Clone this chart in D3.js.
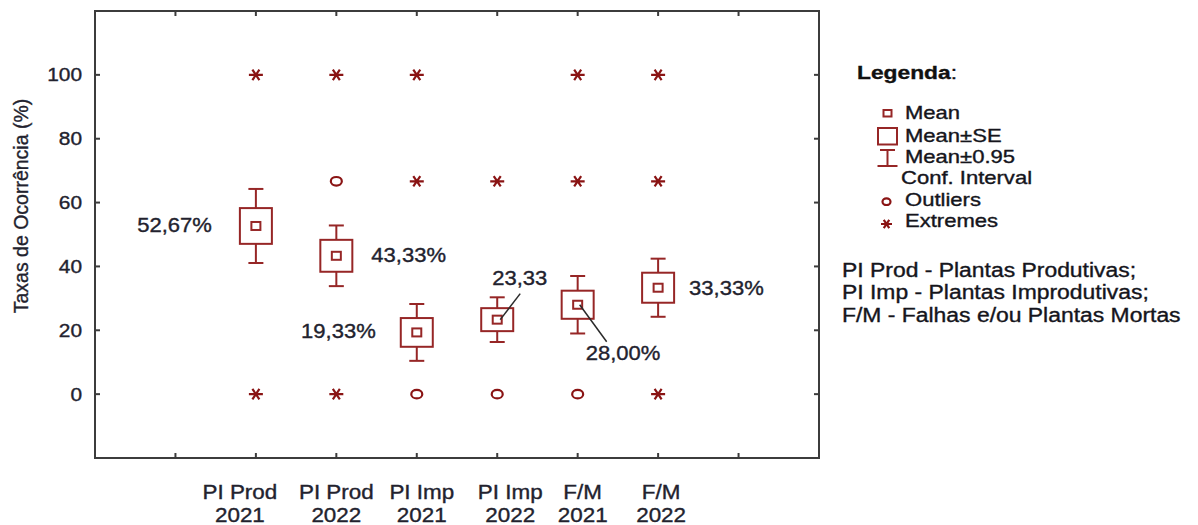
<!DOCTYPE html>
<html>
<head>
<meta charset="utf-8">
<script src="https://cdn.jsdelivr.net/npm/d3@7/dist/d3.min.js"></script>
<style>
  html, body { margin: 0; padding: 0; background: #fff; }
  svg { display: block; font-family: "Liberation Sans", Arial, sans-serif; }
  svg text { paint-order: stroke; stroke-width: 0.35px; }
</style>
</head>
<body>
<svg id="chart" width="1198" height="525"></svg>
<script>
// Occurrence rates (%) per plant group and year
const groupNames = ["PI Prod", "PI Prod", "PI Imp", "PI Imp", "F/M", "F/M"];
const groupYears = ["2021", "2022", "2021", "2022", "2021", "2022"];
const means      = [52.67, 43.33, 19.33, 23.33, 28.00, 33.33];
const stdErr     = [5.6, 5.0, 4.5, 3.6, 4.4, 4.7];
const ci95       = [11.6, 9.5, 8.9, 7.0, 9.0, 9.1];
const outliers   = [[], [66.67], [0], [0], [0], []];
const extremes   = [[100, 0], [100, 0], [100, 66.67], [66.67], [100, 66.67], [100, 66.67, 0]];
const meanLabels = ["52,67%", "43,33%", "19,33%", "23,33", "28,00%", "33,33%"];
const yTicks     = [0, 20, 40, 60, 80, 100];
const legendItems = ["Mean", "Mean\u00b1SE", "Mean\u00b10.95", "Outliers", "Extremes"];
const notes = ["PI Prod - Plantas Produtivas;", "PI Imp - Plantas Improdutivas;", "F/M - Falhas e/ou Plantas Mortas"];

// layout tweaks for the hand-placed category labels and value callouts
const xLabelNudge = [-16, 0, 5, 13, 5, 3];
const callouts = [
  { dx: -44, dy: 6,  anchor: "end" },
  { dx: 35,  dy: 6,  anchor: "start" },
  { dx: -41, dy: 6,  anchor: "end" },
  { dx: -5,  dy: -35, anchor: "start", leader: [[23, -26], [3, 0]] },
  { dx: 8,   dy: 55, anchor: "start", leader: [[2, 0], [29, 37]] },
  { dx: 31,  dy: 7,  anchor: "start" }
];

const MARK = "#962626";
const STAR = "#8a1414";
const INK  = "#22222e";
const FRAME = "#3c3c3c";

const svg = d3.select("#chart");
const plotL = 95, plotR = 819, plotT = 11, plotB = 458;

const x = d3.scaleLinear().domain([-2, 7]).range([plotL, plotR]);
const y = d3.scaleLinear().domain([-20, 120]).range([plotB, plotT]);

// stretched text helper (the figure's type is set wide)
function label(g, str, px, py, opts) {
  const fill = opts.fill || INK;
  const t = g.append("text")
    .attr("transform", `translate(${px},${py}) scale(${opts.sx || 1},1)`)
    .attr("text-anchor", opts.anchor || "start")
    .attr("font-size", opts.size)
    .attr("fill", fill)
    .attr("stroke", fill)
    .text(str);
  if (opts.weight) t.attr("font-weight", opts.weight);
  return t;
}

// frame
svg.append("rect")
  .attr("x", plotL).attr("y", plotT)
  .attr("width", plotR - plotL).attr("height", plotB - plotT)
  .attr("fill", "none").attr("stroke", FRAME).attr("stroke-width", 2);

// inward ticks on all four sides
const xTickVals = d3.range(-1, 7);
const axes = svg.append("g").attr("stroke", FRAME).attr("stroke-width", 2);
xTickVals.forEach(v => {
  axes.append("line").attr("x1", x(v)).attr("x2", x(v)).attr("y1", plotB).attr("y2", plotB - 5);
  axes.append("line").attr("x1", x(v)).attr("x2", x(v)).attr("y1", plotT).attr("y2", plotT + 5);
});
yTicks.forEach(v => {
  axes.append("line").attr("x1", plotL).attr("x2", plotL + 5).attr("y1", y(v)).attr("y2", y(v));
  axes.append("line").attr("x1", plotR).attr("x2", plotR - 5).attr("y1", y(v)).attr("y2", y(v));
});

// y tick labels
const yLab = svg.append("g");
yTicks.forEach(v => label(yLab, String(v), 82, y(v) + 6.6, { size: 18.5, sx: 1.13, anchor: "end" }));

// y axis title
svg.append("text")
  .attr("transform", "translate(27.5,206) rotate(-90)")
  .attr("text-anchor", "middle")
  .attr("font-size", 19.5)
  .attr("fill", INK)
  .attr("stroke", INK)
  .text("Taxas de Ocorr\u00eancia (%)");

// category labels
const xLab = svg.append("g");
groupNames.forEach((n, i) => {
  const cx = x(i) + xLabelNudge[i];
  label(xLab, n, cx, 499, { size: 19.5, sx: 1.15, anchor: "middle" });
  label(xLab, groupYears[i], cx, 521.7, { size: 19.5, sx: 1.15, anchor: "middle" });
});

// star glyph for extremes
function star(g, cx, cy, r) {
  const p = d3.path();
  [0, 60, 120].forEach(a => {
    const rad = a * Math.PI / 180;
    const dx = r * Math.cos(rad), dy = r * Math.sin(rad) * 0.85;
    p.moveTo(cx - dx, cy - dy); p.lineTo(cx + dx, cy + dy);
  });
  g.append("path").attr("d", p.toString())
    .attr("stroke", STAR).attr("stroke-width", 2.2).attr("fill", "none");
}
function ring(g, cx, cy, rx, ry) {
  g.append("ellipse").attr("cx", cx).attr("cy", cy).attr("rx", rx).attr("ry", ry)
    .attr("fill", "none").attr("stroke", STAR).attr("stroke-width", 2.2);
}

// box-whisker marks: mean, mean±SE, mean±0.95 CI
const marks = svg.append("g").attr("stroke", MARK).attr("stroke-width", 2).attr("fill", "none");
means.forEach((m, i) => {
  const cx = x(i);
  const boxW = 32, capW = 15;
  const yTop = y(m + ci95[i]), yBot = y(m - ci95[i]);
  const seTop = y(m + stdErr[i]), seBot = y(m - stdErr[i]);
  marks.append("line").attr("x1", cx).attr("x2", cx).attr("y1", yTop).attr("y2", seTop);
  marks.append("line").attr("x1", cx).attr("x2", cx).attr("y1", seBot).attr("y2", yBot);
  marks.append("line").attr("x1", cx - capW / 2).attr("x2", cx + capW / 2).attr("y1", yTop).attr("y2", yTop);
  marks.append("line").attr("x1", cx - capW / 2).attr("x2", cx + capW / 2).attr("y1", yBot).attr("y2", yBot);
  marks.append("rect").attr("x", cx - boxW / 2).attr("y", seTop)
    .attr("width", boxW).attr("height", seBot - seTop);
  marks.append("rect").attr("x", cx - 4.5).attr("y", y(m) - 4)
    .attr("width", 9).attr("height", 8);
});

// outliers and extremes
const pts = svg.append("g");
outliers.forEach((list, i) => list.forEach(v => ring(pts, x(i), y(v), 5.5, 4.3)));
extremes.forEach((list, i) => list.forEach(v => star(pts, x(i), y(v), 7)));

// mean value callouts
const notesG = svg.append("g");
meanLabels.forEach((t, i) => {
  const c = callouts[i];
  const mx = x(i), my = y(means[i]);
  label(notesG, t, mx + c.dx, my + c.dy, { size: 19.5, sx: 1.13, anchor: c.anchor });
  if (c.leader) {
    notesG.append("line")
      .attr("x1", mx + c.leader[0][0]).attr("y1", my + c.leader[0][1])
      .attr("x2", mx + c.leader[1][0]).attr("y2", my + c.leader[1][1])
      .attr("stroke", "#2a2a2a").attr("stroke-width", 1.5);
  }
});

// legend
const lg = svg.append("g");
const title = lg.append("text")
  .attr("transform", "translate(857,79.3) scale(1.2,1)")
  .attr("font-size", 19).attr("fill", "#111").attr("stroke", "#111");
title.append("tspan").attr("font-weight", "bold").text("Legenda");
title.append("tspan").text(":");

const itemBase = [119.3, 141.7, 163.3, 206, 227.3];
legendItems.forEach((t, i) => label(lg, t, 905, itemBase[i], { size: 17.5, sx: 1.26, fill: "#15151c" }));
label(lg, "Conf. Interval", 901, 184.3, { size: 17.5, sx: 1.26, fill: "#15151c" });

const icons = lg.append("g").attr("stroke", MARK).attr("stroke-width", 2).attr("fill", "none");
icons.append("rect").attr("x", 883.5).attr("y", 110).attr("width", 8).attr("height", 6.5);
icons.append("rect").attr("x", 878).attr("y", 128).attr("width", 19).attr("height", 16.5);
icons.append("line").attr("x1", 880).attr("x2", 895).attr("y1", 150).attr("y2", 150);
icons.append("line").attr("x1", 887.5).attr("x2", 887.5).attr("y1", 150).attr("y2", 166);
icons.append("line").attr("x1", 877.5).attr("x2", 897.5).attr("y1", 166).attr("y2", 166);
ring(lg, 886.5, 201.7, 4, 3.3);
star(lg, 886.5, 224, 5.5);

notes.forEach((t, i) => label(lg, t, 842, 276.7 + i * 22.5, { size: 19.5, sx: 1.175, fill: "#15151c" }));
</script>
</body>
</html>
